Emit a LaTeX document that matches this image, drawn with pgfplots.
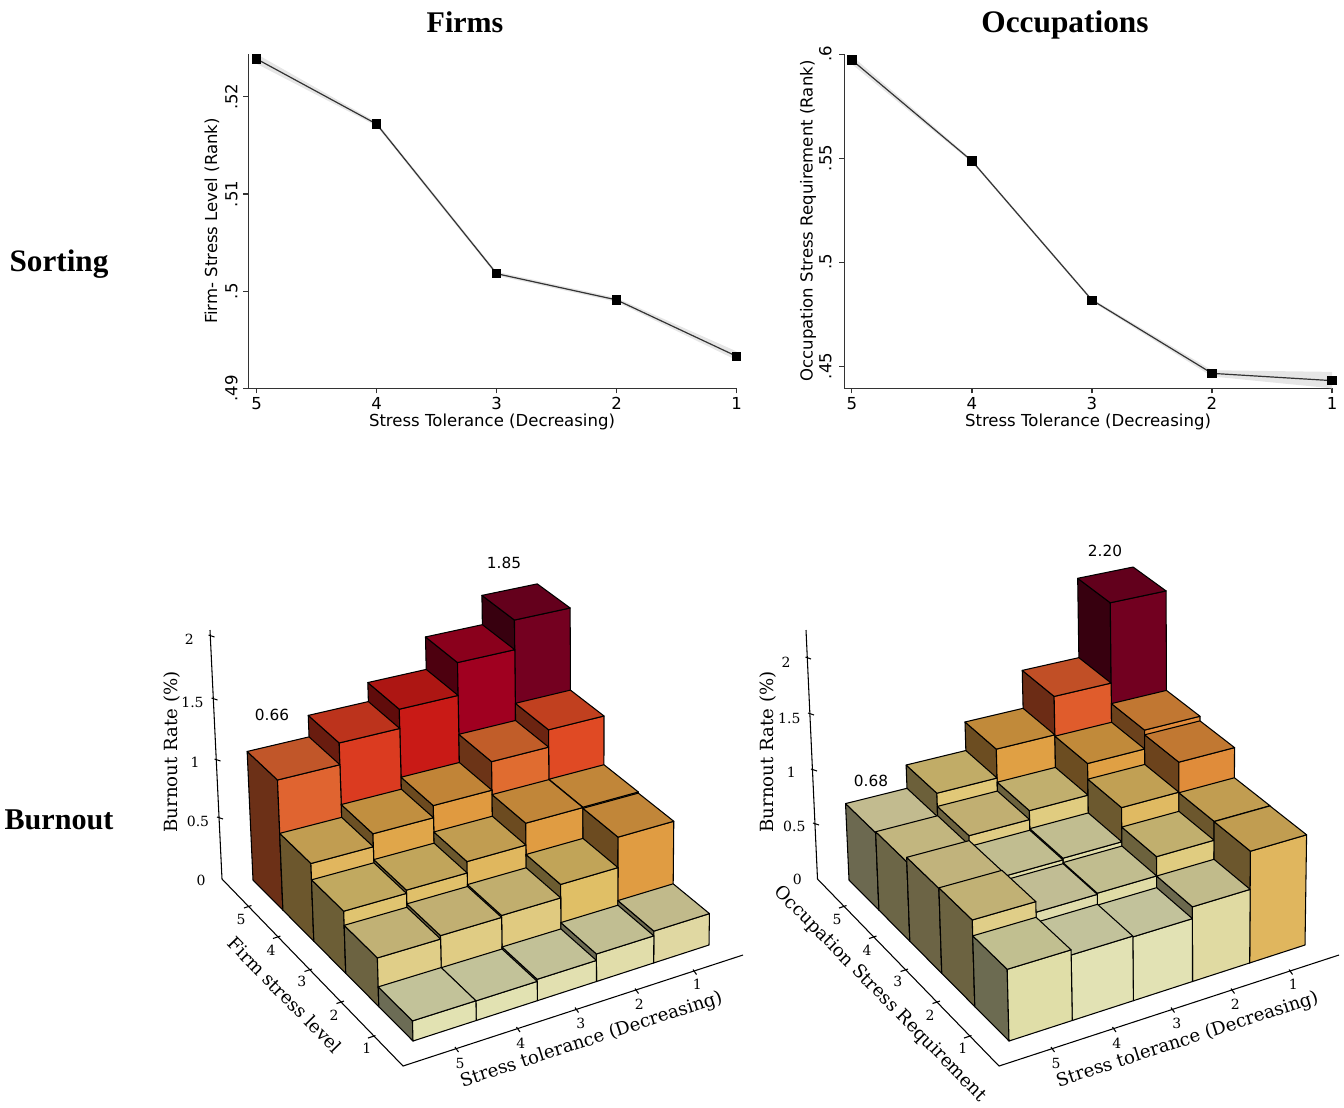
\documentclass[border=0pt]{standalone}
\usepackage{pgfplots}
\pgfplotsset{compat=1.18}
\usepackage{fontspec}
\setmainfont{DejaVu Sans}
\newfontfamily\dvserif{DejaVu Serif}
\newfontfamily\ttlfont{Liberation Serif}[BoldFont={Liberation Serif Bold}]
\definecolor{axc}{HTML}{333333}
\definecolor{bandc}{HTML}{E6E6E6}
\newcommand{\lab}[1]{\fontsize{#1}{#1}\selectfont}
% --- projection of the bars: u,v on the floor (0..1), z the height
\def\dX{0}\def\zs{1}
\newcommand{\Prj}[5]{%
  \pgfmathsetmacro\prw{1+0.08685*#1+0.08659*#2-0.01785*#3}%
  \pgfmathsetmacro#4{(357.58*#1-138.09*#2+413-10.71*#3)/\prw+\dX}%
  \pgfmathsetmacro#5{(-13.93*#1-84.8*#2+1041-151.7*#3)/\prw}}
% \onebar{i}{j}{value}{front colour}{prefix}
\newcommand{\onebar}[5]{%
  \definecolor{#5#1#2}{HTML}{#4}%
  \pgfmathsetmacro\ua{#1/5}\pgfmathsetmacro\ub{(#1+1)/5}%
  \pgfmathsetmacro\va{#2/5}\pgfmathsetmacro\vb{(#2+1)/5}%
  \pgfmathsetmacro\zz{#3*\zs}%
  \Prj{\ua}{\va}{0}{\Ax}{\Ay}\Prj{\ub}{\va}{0}{\Bx}{\By}%
  \Prj{\ua}{\va}{\zz}{\Cx}{\Cy}\Prj{\ub}{\va}{\zz}{\Dx}{\Dy}%
  \Prj{\ua}{\vb}{0}{\Ex}{\Ey}\Prj{\ua}{\vb}{\zz}{\Fx}{\Fy}%
  \Prj{\ub}{\vb}{\zz}{\Gx}{\Gy}%
  \edef\tmp{\noexpand\addplot[forget plot,draw=black,line width=.8pt,line join=round,fill=#5#1#2!48!black] coordinates {(\Ex,\Ey)(\Ax,\Ay)(\Cx,\Cy)(\Fx,\Fy)} -- cycle;}\tmp
  \edef\tmp{\noexpand\addplot[forget plot,draw=black,line width=.8pt,line join=round,fill=#5#1#2] coordinates {(\Ax,\Ay)(\Bx,\By)(\Dx,\Dy)(\Cx,\Cy)} -- cycle;}\tmp
  \edef\tmp{\noexpand\addplot[forget plot,draw=black,line width=.8pt,line join=round,fill=#5#1#2!86!black] coordinates {(\Cx,\Cy)(\Dx,\Dy)(\Gx,\Gy)(\Fx,\Fy)} -- cycle;}\tmp
}
\newcommand{\sg}[4]{\addplot[forget plot,black,line width=.8pt] coordinates {(#1,#2)(#3,#4)};}
\pgfplotsset{topaxis/.style={
  scale only axis, axis lines=left, axis line style={-,axc,line width=.8pt},
  tick style={axc,line width=.8pt}, tick align=outside, major tick length=3.75pt,
  minor tick num=0, clip=false, height=250.7pt,
  xtick={0,1,2,3,4}, xticklabels={5,4,3,2,1},
  x tick label style={font=\lab{12.4},inner sep=0pt,yshift=-3pt},
  scaled ticks=false,
}}
\begin{document}
\begin{tikzpicture}
\path[use as bounding box] (0,0) rectangle (1008pt,830.25pt);
% ---------- top left
\begin{axis}[topaxis,at={(186.2pt,539pt)},anchor=south west,width=366.5pt,
  xmin=-0.069,xmax=4.003,ymin=0.49,ymax=0.5244,
  y tick label style={font=\lab{12.4},xshift=-4pt,rotate=90,anchor=south,inner sep=0pt},
  ytick={0.49,0.5,0.51,0.52},yticklabels={.49,.5,.51,.52}]
\addplot[forget plot,draw=none,fill=bandc] coordinates
 {(0,0.5244)(1,0.5174)(2,0.5020)(3,0.4993)(4,0.4938)(4,0.4929)(3,0.4989)(2,0.5016)(1,0.5170)(0,0.5234)} -- cycle;
\addplot[axc,line width=.9pt,mark=square*,mark size=3pt,mark options={black,solid}] coordinates
 {(0,0.5239)(1,0.5172)(2,0.5018)(3,0.4991)(4,0.4933)};
\end{axis}
% ---------- top right
\begin{axis}[topaxis,at={(633.2pt,539pt)},anchor=south west,width=365.8pt,
  xmin=-0.064,xmax=4,ymin=0.4393,ymax=0.6,
  y tick label style={font=\lab{12.4},xshift=-5.5pt,rotate=90,anchor=south,inner sep=0pt},
  ytick={0.45,0.5,0.55,0.6},yticklabels={.45,.5,.55,.6}]
\addplot[forget plot,draw=none,fill=bandc] coordinates
 {(0,0.5991)(1,0.5493)(2,0.4824)(3,0.4480)(4,0.4472)(4,0.4393)(3,0.4450)(2,0.4810)(1,0.5479)(0,0.5951)} -- cycle;
\addplot[axc,line width=.9pt,mark=square*,mark size=3pt,mark options={black,solid}] coordinates
 {(0,0.5971)(1,0.5486)(2,0.4817)(3,0.4465)(4,0.4430)};
\end{axis}
% ---------- everything else, in a frame of the picture's pixels
\begin{axis}[at={(0,0)},anchor=south west,scale only axis,width=1008pt,height=830.25pt,
  xmin=0,xmax=1344,ymin=0,ymax=1107,y dir=reverse,hide axis,clip=false,ticks=none]
% left bars: back row first
\def\dX{0}\def\zs{1}
\onebar{4}{4}{1.82}{740020}{L}\onebar{3}{4}{1.586}{A00020}{L}\onebar{2}{4}{1.328}{C91A16}{L}\onebar{1}{4}{1.178}{DB3B20}{L}\onebar{0}{4}{1.01}{E06430}{L}
\onebar{4}{3}{1.158}{E04A24}{L}\onebar{3}{3}{1.02}{E06C30}{L}\onebar{2}{3}{0.795}{E09A40}{L}\onebar{1}{3}{0.70}{E0A64A}{L}\onebar{0}{3}{0.60}{E1B65E}{L}
\onebar{4}{2}{0.763}{E09C42}{L}\onebar{3}{2}{0.76}{E09C42}{L}\onebar{2}{2}{0.588}{E0B75E}{L}\onebar{1}{2}{0.50}{E0C06A}{L}\onebar{0}{2}{0.475}{E0C470}{L}
\onebar{4}{1}{0.754}{E09C42}{L}\onebar{3}{1}{0.514}{E0BF66}{L}\onebar{2}{1}{0.409}{E0CA80}{L}\onebar{1}{1}{0.394}{E0CC84}{L}\onebar{0}{1}{0.368}{E0CE88}{L}
\onebar{4}{0}{0.252}{E0D8A2}{L}\onebar{3}{0}{0.215}{E1DDAA}{L}\onebar{2}{0}{0.165}{E2E0B0}{L}\onebar{1}{0}{0.149}{E2E2B2}{L}\onebar{0}{0}{0.15}{E2E2B2}{L}
% right bars
\def\dX{596}\def\zs{0.889}
\onebar{4}{4}{2.20}{720020}{R}\onebar{3}{4}{1.485}{E05C2C}{R}\onebar{2}{4}{1.143}{E0A044}{R}\onebar{1}{4}{0.887}{E1C878}{R}\onebar{0}{4}{0.68}{E2DAA6}{R}
\onebar{4}{3}{1.30}{E08A3A}{R}\onebar{3}{3}{1.131}{E0A044}{R}\onebar{2}{3}{0.85}{E0CC80}{R}\onebar{1}{3}{0.771}{E0CC84}{R}\onebar{0}{3}{0.689}{E2D494}{R}
\onebar{4}{2}{1.258}{E08C3A}{R}\onebar{3}{2}{0.992}{E0BA62}{R}\onebar{2}{2}{0.691}{E0DCA8}{R}\onebar{1}{2}{0.677}{E0DCA8}{R}\onebar{0}{2}{0.728}{E0D090}{R}
\onebar{4}{1}{0.987}{E0B65E}{R}\onebar{3}{1}{0.821}{E0CC80}{R}\onebar{2}{1}{0.653}{E0DCA6}{R}\onebar{1}{1}{0.643}{E0DCAC}{R}\onebar{0}{1}{0.733}{E0CE88}{R}
\onebar{4}{0}{0.985}{E0B65E}{R}\onebar{3}{0}{0.652}{E0DAA2}{R}\onebar{2}{0}{0.55}{E2E2B4}{R}\onebar{1}{0}{0.557}{E2E2B4}{R}\onebar{0}{0}{0.60}{E0DEA8}{R}
% axes of the left bars
\sg{222}{879}{210}{630}\sg{222}{879}{403}{1066}\sg{403}{1066}{743}{955}
\sg{208.5}{635}{214.5}{637}\sg{211.5}{698}{217.5}{700}\sg{214.5}{759}{220.5}{761}\sg{217}{817}{223}{819}
\sg{244}{908}{251.5}{905.5}\sg{273}{938.5}{280.5}{936}\sg{304.5}{971.5}{312}{969}\sg{336.5}{1003.5}{344}{1001}\sg{368}{1038}{375.5}{1035.5}
\sg{455}{1047}{458.5}{1052}\sg{516.5}{1027}{520}{1032}\sg{575}{1007.5}{578.5}{1012.5}\sg{635}{988.5}{638.5}{993.5}\sg{693}{969.5}{696.5}{974.5}
% axes of the right bars
\sg{817.5}{879}{806}{630}\sg{817.5}{879}{999}{1066}\sg{999}{1066}{1339}{955}
\sg{805.5}{657}{811}{659}\sg{808}{713}{814}{715}\sg{811}{769}{817}{771}\sg{813}{823}{819}{825}
\sg{839}{908}{846.5}{905.5}\sg{869}{938.5}{876.5}{936}\sg{900.5}{971.5}{908}{969}\sg{932.5}{1003.5}{940}{1001}\sg{964}{1038}{971.5}{1035.5}
\sg{1051}{1047}{1054.5}{1052}\sg{1112.5}{1027}{1116}{1032}\sg{1171}{1007.5}{1174.5}{1012.5}\sg{1231}{988.5}{1234.5}{993.5}\sg{1289}{969.5}{1292.5}{974.5}
% tick labels of the bars
\foreach \x/\y/\t in {189.3/639/2,192.5/702/1.5,195/762/1,198/821/0.5,201/880/0,
  786/662.3/2,789.3/718.3/1.5,791.3/772.7/1,794.3/826.7/0.5,797.3/879.3/0,
  241/919/5,271/950.7/4,301.7/981.7/3,334/1015/2,366.7/1048/1,
  837/919/5,867/950.7/4,897.7/981.7/3,930/1015/2,962.7/1048/1,
  460/1063/5,520.7/1043/4,580.7/1023/3,639.3/1004/2,697.3/984.3/1,
  1056/1063/5,1116.7/1043/4,1176.7/1023/3,1235.3/1004/2,1293.3/984.3/1}
 {\edef\tmp{\noexpand\node[font=\noexpand\dvserif\noexpand\lab{10.5}] at (axis cs:\x,\y) {\t};}\tmp}
% axis titles of the bars
\node[font=\dvserif\lab{13.6},rotate=90] at (axis cs:172,752) {Burnout Rate (\%)};
\node[font=\dvserif\lab{13.6},rotate=90] at (axis cs:768,752) {Burnout Rate (\%)};
\node[font=\dvserif\lab{13.6},rotate=-45.5] at (axis cs:285,995) {Firm stress level};
\node[font=\dvserif\lab{13.6},rotate=-45.5] at (axis cs:880,994) {Occupation Stress Requirement};
\node[font=\dvserif\lab{13.6},rotate=18] at (axis cs:591.5,1040) {Stress tolerance (Decreasing)};
\node[font=\dvserif\lab{13.6},rotate=18] at (axis cs:1187.5,1040) {Stress tolerance (Decreasing)};
% values
\node[font=\lab{11.5}] at (axis cs:272,715) {0.66};
\node[font=\lab{11.5}] at (axis cs:504,563) {1.85};
\node[font=\lab{11.5}] at (axis cs:871,781) {0.68};
\node[font=\lab{11.5}] at (axis cs:1105,551) {2.20};
% labels of the line charts
\node[font=\lab{12.4}] at (axis cs:492,422) {Stress Tolerance (Decreasing)};
\node[font=\lab{12.4}] at (axis cs:1088,422) {Stress Tolerance (Decreasing)};
\node[font=\lab{12.4},rotate=90] at (axis cs:212,221) {Firm- Stress Level (Rank)};
\node[font=\lab{12.4},rotate=90] at (axis cs:808,221) {Occupation Stress Requirement (Rank)};
% titles
\node[font=\ttlfont\bfseries\lab{22.5},anchor=base] at (axis cs:465,32) {Firms};
\node[font=\ttlfont\bfseries\lab{23.5},anchor=base] at (axis cs:1065,32) {Occupations};
\node[font=\ttlfont\bfseries\lab{23.4},anchor=base] at (axis cs:59,271) {Sorting};
\node[font=\ttlfont\bfseries\lab{22.6},anchor=base] at (axis cs:59,829) {Burnout};
\end{axis}
\end{tikzpicture}
\end{document}
